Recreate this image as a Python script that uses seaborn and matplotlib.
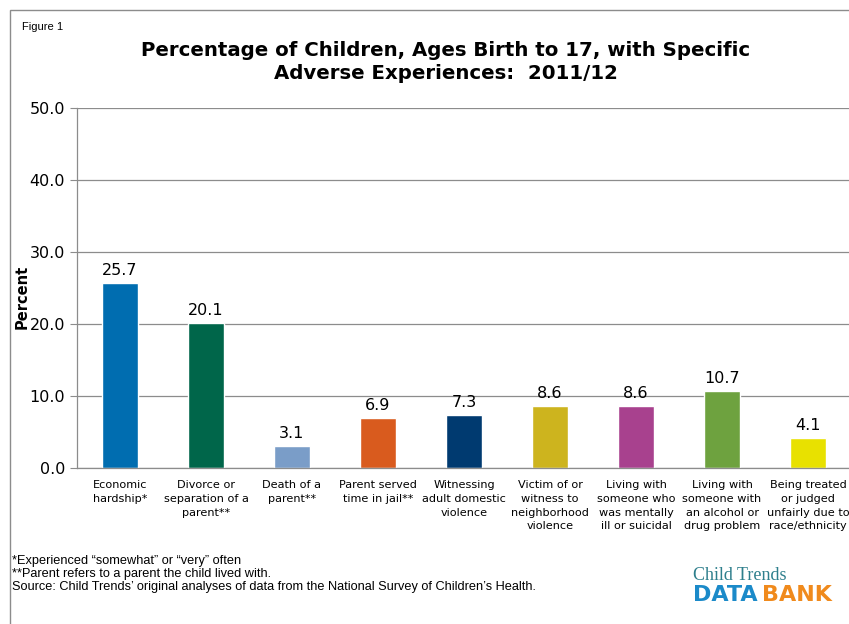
import matplotlib
matplotlib.use("Agg")
import matplotlib.pyplot as plt
import seaborn as sns
import pandas as pd
from matplotlib.patches import Rectangle

categories = [
    "Economic\nhardship*",
    "Divorce or\nseparation of a\nparent**",
    "Death of a\nparent**",
    "Parent served\ntime in jail**",
    "Witnessing\nadult domestic\nviolence",
    "Victim of or\nwitness to\nneighborhood\nviolence",
    "Living with\nsomeone who\nwas mentally\nill or suicidal",
    "Living with\nsomeone with\nan alcohol or\ndrug problem",
    "Being treated\nor judged\nunfairly due to\nrace/ethnicity",
]
values = [25.7, 20.1, 3.1, 6.9, 7.3, 8.6, 8.6, 10.7, 4.1]
colors = ["#006DB0", "#00664A", "#7A9DC8", "#D95B1E", "#003A70",
          "#CDB41E", "#A8418E", "#6EA23F", "#E8E100"]
yticks = [0, 10, 20, 30, 40, 50]

df = pd.DataFrame({"category": categories, "value": values})

sns.set_style("white")
plt.rcParams["font.family"] = ["DejaVu Sans"]
plt.rcParams["text.color"] = "black"
plt.rcParams["axes.labelcolor"] = "black"
plt.rcParams["xtick.labelcolor"] = "black"
plt.rcParams["ytick.labelcolor"] = "black"

fig = plt.figure(figsize=(8.49, 6.24), dpi=100)
ax = fig.add_axes([77 / 849, 1 - 468 / 624, (851 - 77) / 849, 360 / 624])

sns.barplot(data=df, x="category", y="value", hue="category", palette=colors,
            legend=False, width=0.41, ax=ax, saturation=1)

for i, v in enumerate(values):
    ax.text(i, v + 0.7, f"{v:.1f}", ha="center", va="bottom", fontsize=11.5)

ax.set_ylim(0, 50)
ax.set_xlim(-0.5, len(categories) - 0.5)
ax.set_yticks(yticks)
ax.set_yticklabels([f"{t:.1f}" for t in yticks], fontsize=11.5)
ax.yaxis.grid(True, color="#8c8c8c", linewidth=0.9)
ax.set_axisbelow(True)

ax.set_xticks(range(len(categories)))
ax.set_xticklabels(categories, fontsize=8.1, linespacing=1.45)
ax.set_xticks([i - 0.5 for i in range(len(categories) + 1)], minor=True)
ax.tick_params(axis="x", which="major", length=0, pad=9)
ax.tick_params(axis="x", which="minor", length=5, color="#8c8c8c", direction="out")
ax.tick_params(axis="y", length=5, color="#8c8c8c", direction="out", left=True)

for side in ["top", "right"]:
    ax.spines[side].set_visible(False)
for side in ["left", "bottom"]:
    ax.spines[side].set_color("#8c8c8c")
    ax.spines[side].set_linewidth(0.9)

ax.set_xlabel("")
ax.set_ylabel("Percent", fontsize=10.5, fontweight="bold")
ax.yaxis.set_label_coords(-0.061, 0.475)

# outer frame, titles, footnotes, logo
fig.patches.append(Rectangle((10 / 849, -0.1), 1.1, 1 - 10 / 624 + 0.1,
                             transform=fig.transFigure, fill=False,
                             edgecolor="#8c8c8c", linewidth=1))
fig.text(22 / 849, 1 - 27 / 624, "Figure 1", fontsize=8,
         family=["Liberation Sans"], va="center")
fig.text(446 / 849, 1 - 62 / 624,
         "Percentage of Children, Ages Birth to 17, with Specific\n"
         "Adverse Experiences:  2011/12",
         ha="center", va="center", fontsize=14.2, fontweight="bold",
         linespacing=1.3)

foot = ("*Experienced \u201csomewhat\u201d or \u201cvery\u201d often\n"
        "**Parent refers to a parent the child lived with.\n"
        "Source: Child Trends\u2019 original analyses of data from the National Survey of Children\u2019s Health.")
fig.text(12 / 849, 1 - 574 / 624, foot, fontsize=9.2, va="center",
         family=["Liberation Sans"], linespacing=1.15)

fig.text(693 / 849, 1 - 575 / 624, "Child Trends", fontsize=13,
         family=["Liberation Serif"], color="#2E7F8C", va="center")
fig.text(693 / 849, 1 - 595 / 624, "DATA", fontsize=16, fontweight="bold",
         color="#1B8AC9", va="center")
fig.text(762 / 849, 1 - 595 / 624, "BANK", fontsize=16, fontweight="bold",
         color="#F08A1C", va="center")

fig.savefig("out.png", dpi=100)
